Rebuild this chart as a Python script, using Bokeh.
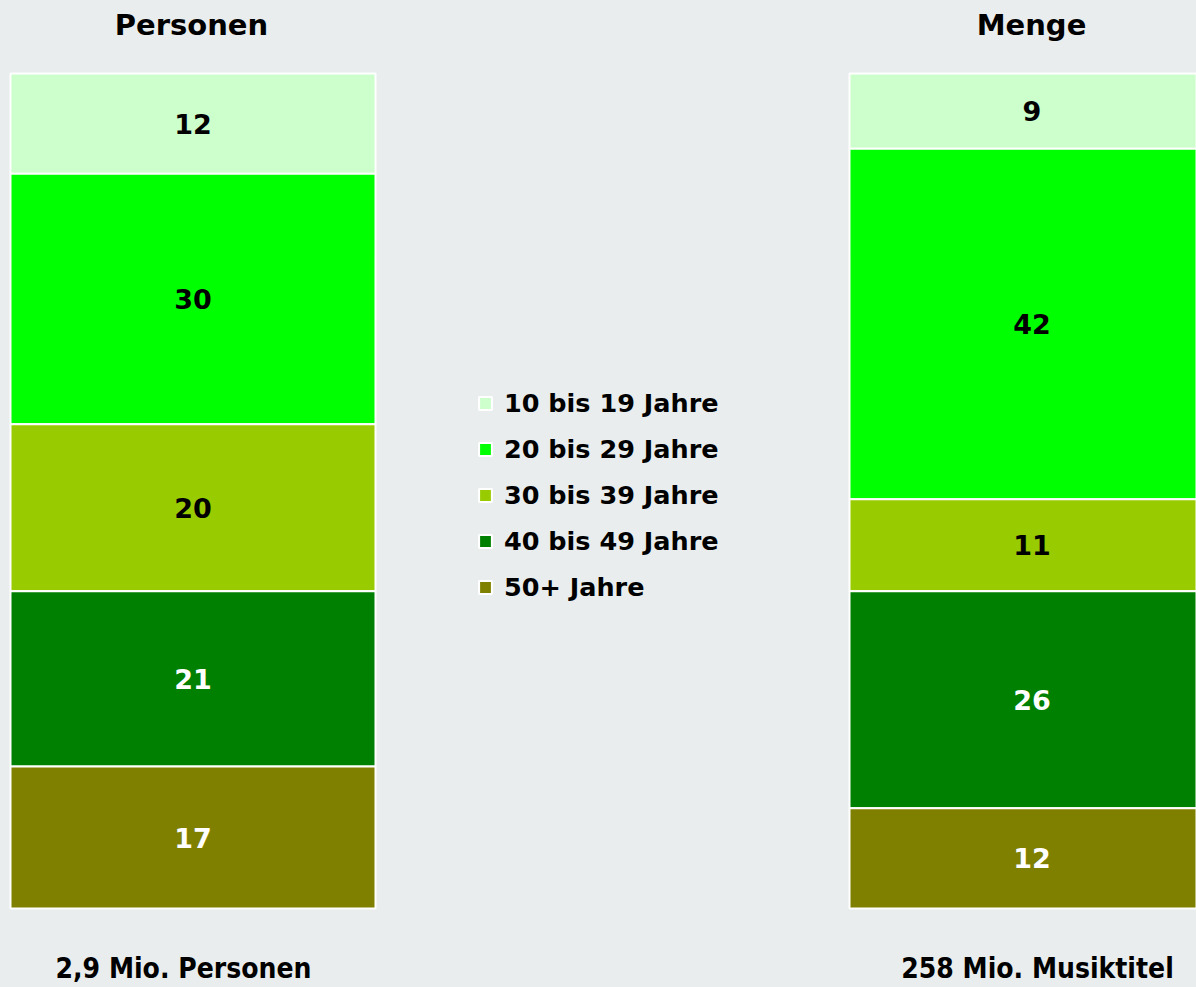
from bokeh.plotting import figure
from bokeh.models import Range1d, Legend, LegendItem, ColumnDataSource
from bokeh.core.properties import value
from bokeh.embed import file_html
from bokeh.resources import INLINE

# ---- data ----
groups = ["10 bis 19 Jahre", "20 bis 29 Jahre", "30 bis 39 Jahre", "40 bis 49 Jahre", "50+ Jahre"]
personen = [12, 30, 20, 21, 17]
menge = [9, 42, 11, 26, 12]
colors = ["#CCFFCC", "#00FF00", "#99CC00", "#008000", "#808000"]
label_colors = ["black", "black", "black", "white", "white"]
titles = ["Personen", "Menge"]
totals = ["2,9 Mio. Personen", "258 Mio. Musiktitel"]

BG = "#E9EDED"
W, H = 1196, 987
# y mapping: percent scale, 100% spans 835 px, bar top at px 73 from top
PX_PER_PCT = 8.35
TOP_PX = 73
y_top = 100 + TOP_PX / PX_PER_PCT
y_bot = y_top - H / PX_PER_PCT


def ydat(px_from_top):
    return y_top - px_from_top / PX_PER_PCT


bar_x = [192.5, 1031.5]
bar_w = 365

p = figure(width=W, height=H, x_range=Range1d(0, W), y_range=Range1d(y_bot, y_top),
           output_backend="svg", toolbar_location=None, min_border=0)
p.axis.visible = False
p.grid.visible = False
p.outline_line_color = None
p.background_fill_color = BG
p.border_fill_color = BG

series = [personen, menge]
items = []
cum = [100.0, 100.0]
for i, g in enumerate(groups):
    vals = [s[i] for s in series]
    tops = list(cum)
    bots = [t - v for t, v in zip(tops, vals)]
    cum = bots
    src = ColumnDataSource(dict(x=bar_x, top=tops, bottom=bots,
                                mid=[(t + b) / 2 for t, b in zip(tops, bots)],
                                lab=[str(v) for v in vals]))
    r = p.vbar(x="x", top="top", bottom="bottom", width=bar_w, source=src,
               fill_color=colors[i], line_color="white", line_width=2)
    p.text(x="x", y="mid", text="lab", source=src, text_color=label_colors[i],
           text_font=value("DejaVu Sans"), text_font_style="bold", text_font_size="27px",
           text_align="center", text_baseline="middle")
    items.append(LegendItem(label=g, renderers=[r]))

# titles
p.text(x=[191, 1031], y=[ydat(24)] * 2, text=titles, text_font=value("DejaVu Sans"),
       text_font_style="bold", text_font_size="29px", text_align="center",
       text_baseline="middle", text_color="black")
# totals
p.text(x=[183, 1037], y=[ydat(968)] * 2, text=totals, text_font=value("DejaVu Sans Condensed"),
       text_font_style="bold", text_font_size="28px", text_align="center",
       text_baseline="middle", text_color="black")

legend = Legend(items=items, location=(477, 385), orientation="vertical",
                glyph_width=16, glyph_height=16, label_height=30, spacing=16,
                label_standoff=11, padding=0, margin=0,
                label_text_font="DejaVu Sans", label_text_font_style="bold",
                label_text_font_size="25.5px", label_text_color="black",
                background_fill_alpha=0, border_line_alpha=0)
p.add_layout(legend)

html = file_html(p, INLINE)
html = html.replace("<head>", "<head><style>html,body{background:%s;}</style>" % BG, 1)
open("out.html", "w").write(html)
